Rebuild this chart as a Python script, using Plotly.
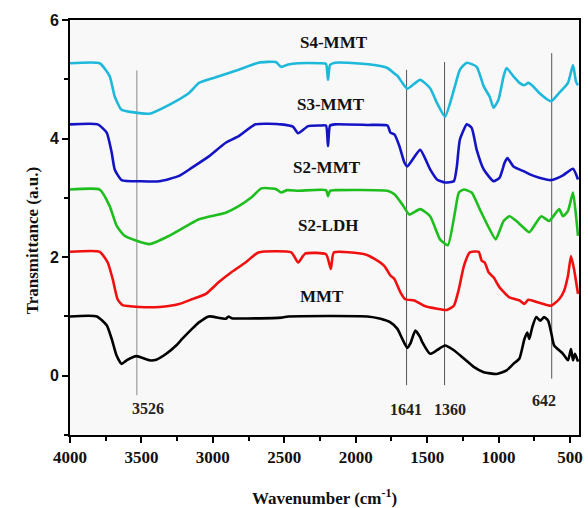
import plotly.graph_objects as go

# ---- data ----
s4_wn = [4000, 3792, 3722, 3687, 3641, 3580, 3444, 3306, 3167, 3097, 2958, 2819, 2681, 2560, 2521, 2472, 2403,
         2250, 2208, 2194, 2180, 2146, 2056, 1870, 1778, 1731, 1708, 1674, 1639, 1549, 1479, 1431, 1375, 1313,
         1271, 1222, 1153, 1104, 1063, 1035, 1000, 965, 944, 896, 854, 819, 792, 757, 715, 632, 576, 514, 479, 458, 444]
s4_t = [5.27, 5.27, 5.05, 4.71, 4.49, 4.45, 4.42, 4.57, 4.77, 4.94, 5.05, 5.16, 5.28, 5.29, 5.21, 5.25, 5.27,
        5.27, 5.26, 4.99, 5.24, 5.28, 5.28, 5.24, 5.19, 5.10, 5.06, 4.94, 4.84, 4.99, 4.85, 4.60, 4.37, 4.82,
        5.16, 5.28, 5.21, 4.88, 4.71, 4.52, 4.66, 5.05, 5.19, 5.05, 4.94, 4.90, 4.94, 4.88, 4.77, 4.63, 4.77, 4.94, 5.24, 4.96, 4.90]

s3_wn = [4000, 3806, 3743, 3708, 3687, 3639, 3500, 3375, 3236, 3146, 3028, 2910, 2819, 2701, 2521, 2440, 2403,
         2333, 2250, 2208, 2194, 2180, 2146, 1917, 1778, 1757, 1729, 1694, 1660, 1639, 1549, 1479, 1431, 1375,
         1313, 1292, 1271, 1222, 1188, 1153, 1104, 1035, 993, 958, 938, 896, 826, 785, 715, 632, 549, 479, 444]
s3_t = [4.24, 4.24, 4.10, 3.76, 3.48, 3.30, 3.28, 3.28, 3.37, 3.51, 3.70, 3.93, 4.04, 4.24, 4.24, 4.20, 4.09,
        4.21, 4.22, 4.22, 3.87, 4.22, 4.24, 4.23, 4.22, 4.10, 4.07, 3.87, 3.60, 3.53, 3.81, 3.48, 3.31, 3.26,
        3.28, 3.53, 3.98, 4.24, 4.18, 3.81, 3.48, 3.28, 3.34, 3.59, 3.67, 3.53, 3.45, 3.40, 3.34, 3.30, 3.38, 3.49, 3.31]

s2m_wn = [4000, 3792, 3722, 3674, 3618, 3444, 3306, 3167, 3097, 2958, 2910, 2819, 2729, 2660, 2560, 2521, 2480,
          2403, 2208, 2194, 2180, 2146, 1778, 1729, 1674, 1625, 1549, 1479, 1410, 1355, 1306, 1278, 1243, 1188,
          1132, 1069, 1020, 965, 924, 875, 826, 785, 701, 646, 576, 549, 514, 479, 458, 444]
s2m_t = [3.14, 3.14, 2.86, 2.53, 2.36, 2.22, 2.36, 2.55, 2.64, 2.72, 2.75, 2.86, 3.01, 3.16, 3.15, 3.09, 3.13,
         3.12, 3.13, 3.03, 3.12, 3.13, 3.12, 3.06, 2.89, 2.72, 2.81, 2.69, 2.30, 2.20, 2.75, 3.09, 3.14, 3.09,
         2.81, 2.50, 2.30, 2.61, 2.69, 2.61, 2.50, 2.42, 2.69, 2.61, 2.81, 2.69, 2.78, 3.09, 2.70, 2.36]

s2l_wn = [4000, 3792, 3736, 3701, 3667, 3632, 3514, 3375, 3236, 3146, 3049, 2958, 2868, 2771, 2681, 2451, 2403,
          2354, 2208, 2174, 2153, 1938, 1868, 1799, 1757, 1729, 1688, 1653, 1590, 1521, 1431, 1361, 1313, 1278,
          1243, 1201, 1139, 1118, 1097, 1069, 1035, 993, 924, 854, 819, 792, 715, 632, 576, 542, 514, 493, 472, 444]
s2l_t = [2.09, 2.09, 1.91, 1.63, 1.29, 1.19, 1.16, 1.16, 1.21, 1.29, 1.38, 1.58, 1.75, 1.91, 2.08, 2.08, 1.91,
         2.06, 2.05, 1.80, 2.08, 2.05, 1.97, 1.85, 1.69, 1.63, 1.41, 1.29, 1.27, 1.18, 1.13, 1.11, 1.18, 1.46,
         1.85, 2.08, 2.09, 1.94, 1.91, 1.74, 1.66, 1.49, 1.32, 1.27, 1.21, 1.28, 1.23, 1.18, 1.29, 1.43, 1.69, 2.02, 1.80, 1.38]

mmt_wn = [4000, 3812, 3743, 3708, 3674, 3639, 3604, 3535, 3444, 3396, 3326, 3257, 3215, 3146, 3097, 3028, 2910,
          2890, 2868, 2521, 2472, 1917, 1826, 1757, 1708, 1674, 1639, 1618, 1583, 1549, 1535, 1479, 1431, 1375,
          1313, 1243, 1174, 1104, 1014, 944, 896, 854, 819, 799, 785, 764, 736, 708, 681, 653, 632, 611, 549,
          514, 493, 479, 465, 444]
mmt_t = [1.00, 1.00, 0.85, 0.62, 0.34, 0.20, 0.26, 0.33, 0.26, 0.27, 0.37, 0.51, 0.62, 0.79, 0.90, 1.00, 0.96,
         1.00, 0.97, 0.98, 1.00, 1.00, 0.96, 0.90, 0.79, 0.62, 0.47, 0.54, 0.76, 0.65, 0.57, 0.37, 0.43, 0.51,
         0.43, 0.29, 0.15, 0.06, 0.03, 0.09, 0.20, 0.29, 0.62, 0.73, 0.62, 0.82, 0.99, 0.93, 0.99, 0.93, 0.73, 0.51, 0.37,
         0.26, 0.45, 0.26, 0.37, 0.24]

series_names = ["S4-MMT", "S3-MMT", "S2-MMT", "S2-LDH", "MMT"]
series_colors = ["#1EB8DA", "#1414C4", "#1FBE1F", "#F01010", "#000000"]
label_wn = [2154, 2175, 2198, 2194, 2236]
label_t = [5.62, 4.57, 3.51, 2.53, 1.33]

# reference peak lines
peak_labels = ["3526", "1641", "1360", "642"]
peak_wn = [3532, 1644, 1378, 628]
peak_top = [5.15, 5.16, 5.29, 5.44]
peak_bottom = [-0.33, -0.16, -0.16, -0.05]
peak_text_wn = [3452, 1651, 1338, 683]
peak_text_t = [-0.55, -0.57, -0.57, -0.41]

x_ticks = [4000, 3500, 3000, 2500, 2000, 1500, 1000, 500]
y_ticks = [0, 2, 4, 6]

serif = "Liberation Serif, Times New Roman, serif"
sans = "Liberation Sans, Arial, sans-serif"

fig = go.Figure()

# peak lines
for i in range(len(peak_wn)):
    fig.add_trace(go.Scatter(x=[peak_wn[i], peak_wn[i]], y=[peak_bottom[i], peak_top[i]], mode="lines",
                             line=dict(color="#555555" if i else "#888888", width=1), showlegend=False,
                             hoverinfo="skip"))

all_wn = [s4_wn, s3_wn, s2m_wn, s2l_wn, mmt_wn]
all_t = [s4_t, s3_t, s2m_t, s2l_t, mmt_t]
for name, col, wn, t in zip(series_names, series_colors, all_wn, all_t):
    fig.add_trace(go.Scatter(x=wn, y=t, mode="lines", name=name,
                             line=dict(color=col, width=2.6, shape="spline", smoothing=0.5),
                             showlegend=False))

for name, xw, yt in zip(series_names, label_wn, label_t):
    fig.add_annotation(x=xw, y=yt, text="<b>%s</b>" % name, showarrow=False,
                       font=dict(family=serif, size=17, color="#111111"))

for lab, xw, yt in zip(peak_labels, peak_text_wn, peak_text_t):
    fig.add_annotation(x=xw, y=yt, text="<b>%s</b>" % lab, showarrow=False,
                       font=dict(family=serif, size=16, color="#222222"))

# axis titles
fig.add_annotation(xref="paper", yref="paper", x=0.5, y=-0.150, yanchor="middle",
                   text="<b>Wavenumber (cm<sup>-1</sup>)</b>", showarrow=False,
                   font=dict(family=serif, size=17, color="#111111"))
fig.add_annotation(xref="paper", yref="paper", x=-0.097, y=0.467, textangle=-90,
                   text="<b>Transmittance (a.u.)</b>", showarrow=False,
                   font=dict(family=serif, size=17, color="#111111"))

fig.update_layout(
    width=588, height=508,
    margin=dict(l=70, r=5, t=20, b=73),
    paper_bgcolor="white", plot_bgcolor="#f8f8f8",
    xaxis=dict(range=[4000, 437], tickvals=x_ticks, ticktext=["<b>%d</b>" % v for v in x_ticks],
               ticks="outside", ticklen=6, tickwidth=2, tickcolor="black",
               showline=True, linewidth=2, linecolor="black", mirror=True,
               showgrid=False, zeroline=False,
               tickfont=dict(family=serif, size=17, color="#111111"),
               minor=dict(dtick=250, tick0=0, ticks="outside", ticklen=4, tickwidth=2, tickcolor="black")),
    yaxis=dict(range=[-1, 6], tickvals=y_ticks, ticktext=["<b>%d</b>" % v for v in y_ticks],
               ticks="outside", ticklen=6, tickwidth=2, tickcolor="black",
               showline=True, linewidth=2, linecolor="black", mirror=True,
               showgrid=False, zeroline=False,
               tickfont=dict(family=sans, size=16, color="#111111"),
               minor=dict(dtick=1, tick0=0, ticks="outside", ticklen=4, tickwidth=2, tickcolor="black")),
)

fig.write_html("out.html", config={"displayModeBar": False},
               post_script="document.body.style.margin='0';document.body.style.overflow='hidden';")
